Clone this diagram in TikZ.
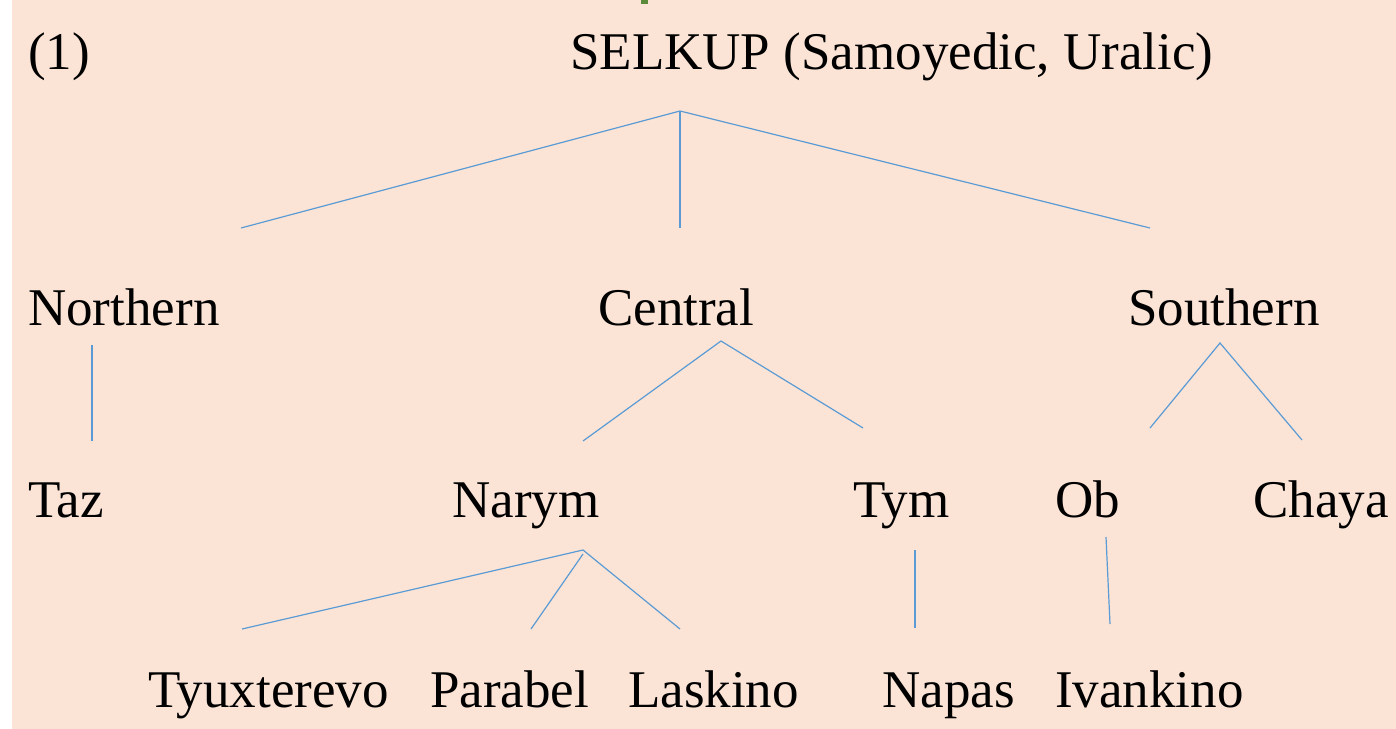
\documentclass[tikz,border=0pt]{standalone}
\usepackage{fontspec}
\setmainfont{Liberation Serif}
\definecolor{peach}{HTML}{FBE4D6}
\definecolor{treeline}{HTML}{5B9BD5}
\definecolor{fraggreen}{HTML}{5A8A3A}
\begin{document}
\begin{tikzpicture}[x=1pt,y=-1pt,
  lbl/.style={anchor=base west,inner sep=0pt,font=\fontsize{53}{60}\selectfont},
  branch/.style={draw=treeline,line width=1.2pt}]
\useasboundingbox (0,0) rectangle (1396,728);
\fill[white] (-2,-2) rectangle (12,732);
\fill[peach] (12,-2) rectangle (1400,732);
\fill[fraggreen] (641,-2) rectangle (648,4);
% labels
\node[lbl] (ex) at (28,69) {(1)};
\node[lbl] (root) at (570,69) {SELKUP (Samoyedic, Uralic)};
\node[lbl] (north) at (28,325) {Northern};
\node[lbl] (central) at (598,325) {Central};
\node[lbl] (south) at (1128,325) {Southern};
\node[lbl] (taz) at (28,517) {Taz};
\node[lbl] (narym) at (452,517) {Narym};
\node[lbl] (tym) at (853,517) {Tym};
\node[lbl] (ob) at (1055,517) {Ob};
\node[lbl] (chaya) at (1253,517) {Chaya};
\node[lbl] (tyux) at (148,707) {Tyuxterevo};
\node[lbl] (parabel) at (430,707) {Parabel};
\node[lbl] (laskino) at (628,707) {Laskino};
\node[lbl] (napas) at (882,707) {Napas};
\node[lbl] (ivankino) at (1055,707) {Ivankino};
% line end points
\coordinate (r0) at (680,111);
\coordinate (r1) at (241,228);
\coordinate (r2) at (680,228);
\coordinate (r3) at (1150,228);
\coordinate (n0) at (92,345);
\coordinate (n1) at (92,441);
\coordinate (c0) at (721,341);
\coordinate (c1) at (583,441);
\coordinate (c2) at (863,428);
\coordinate (s0) at (1220,343);
\coordinate (s1) at (1150,428);
\coordinate (s2) at (1302,440);
\coordinate (y0) at (583,550);
\coordinate (y1) at (242,629);
\coordinate (y2a) at (583,554);
\coordinate (y2) at (531,629);
\coordinate (y3) at (680,629);
\coordinate (t0) at (915,550);
\coordinate (t1) at (915,628);
\coordinate (o0) at (1106,537);
\coordinate (o1) at (1110,624);
% branches
\draw[branch] (r1) -- (r0) -- (r3);
\draw[branch] (r0) -- (r2);
\draw[branch] (n0) -- (n1);
\draw[branch] (c1) -- (c0) -- (c2);
\draw[branch] (s1) -- (s0) -- (s2);
\draw[branch] (y1) -- (y0) -- (y3);
\draw[branch] (y2a) -- (y2);
\draw[branch] (t0) -- (t1);
\draw[branch] (o0) -- (o1);
\end{tikzpicture}
\end{document}
